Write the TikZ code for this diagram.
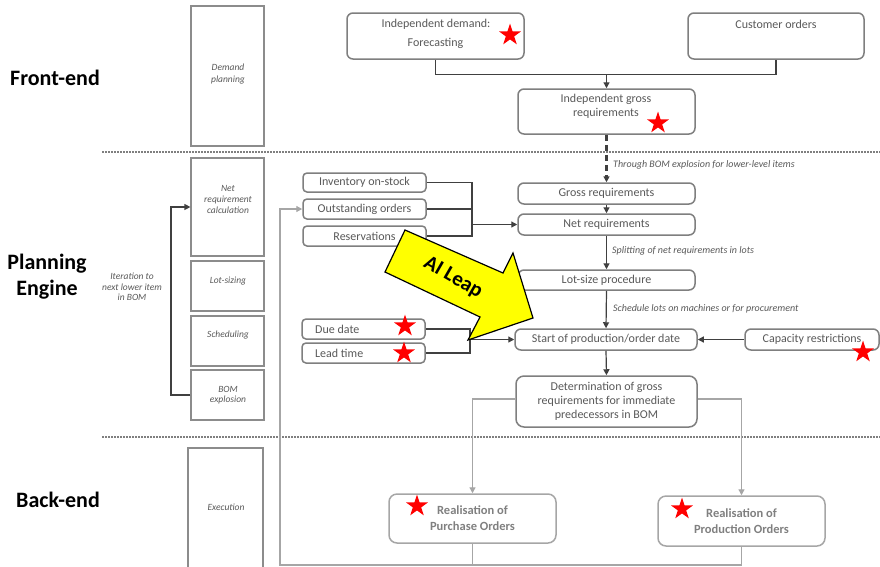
\documentclass[tikz,border=0pt]{standalone}
\usepackage{fontspec}
\setmainfont{Carlito}
\usetikzlibrary{arrows.meta,shapes.geometric}
\definecolor{bord}{HTML}{7F7F7F}
\definecolor{txtc}{HTML}{595959}
\definecolor{lanec}{HTML}{8C8C8C}
\definecolor{conncol}{HTML}{404040}
\definecolor{lgray}{HTML}{A6A6A6}
\definecolor{rtxt}{HTML}{808080}
\definecolor{leapy}{HTML}{FFFF00}
\begin{document}
\begin{tikzpicture}[x=1pt,y=-1pt,
 box/.style={draw=bord, line width=1.5pt, rounded corners=6pt, fill=white, inner sep=0pt, text=txtc, font=\fontsize{12}{15}\selectfont, align=center},
 sbox/.style={box, rounded corners=4pt},
 rbox/.style={draw=lgray, line width=1.5pt, rounded corners=8pt, fill=white, inner sep=0pt, text=rtxt, font=\bfseries\fontsize{12.5}{16}\selectfont, align=center},
 lanebox/.style={draw=lanec, line width=1.2pt, fill=white, inner sep=0pt},
 lanetxt/.style={text=txtc, font=\itshape\fontsize{9.5}{11}\selectfont, align=center, inner sep=0pt},
 btxt/.style={text=txtc, font=\fontsize{12}{15}\selectfont, inner sep=0pt},
 note/.style={text=txtc, font=\itshape\fontsize{10}{12}\selectfont, anchor=west, inner sep=0pt},
 conn/.style={draw=conncol, line width=1.2pt},
 arr/.style={conn, -{Triangle[length=6pt,width=6pt]}},
 garr/.style={draw=lgray, line width=1.2pt, -{Triangle[length=6pt,width=6pt]}},
 gline/.style={draw=lgray, line width=1.2pt},
 rstar/.style={star, star points=5, star point ratio=2.6, fill=red, draw=none, minimum size=23pt, inner sep=0pt},
 sec/.style={font=\bfseries\fontsize{22}{26}\selectfont, align=center, text=black, inner sep=0pt},
 sepline/.style={draw=bord, line width=1.5pt, dash pattern=on 1.5pt off 1.5pt}
]
\fill[white] (0,0) rectangle (880,566);
\useasboundingbox (0,0) rectangle (880,566);

% separators
\draw[sepline] (102,152) -- (880,152);
\draw[sepline] (102,437) -- (880,437);

% section labels
\node[sec] (fe) at (55,78) {Front-end};
\node[sec] (pe) at (47,277) {Planning\\Engine};
\node[sec] (be) at (58,500) {Back-end};

% lanes
\node[lanebox, minimum width=73pt, minimum height=140pt] (dp) at (227.5,76) {};
\node[lanebox, minimum width=73pt, minimum height=98pt] (nrc) at (227.5,207) {};
\node[lanebox, minimum width=73pt, minimum height=50pt] (ls) at (227.5,286) {};
\node[lanebox, minimum width=73pt, minimum height=50pt] (sch) at (227.5,341) {};
\node[lanebox, minimum width=73pt, minimum height=50pt] (bom) at (227.5,395) {};
\node[lanebox, minimum width=75pt, minimum height=124pt] (exe) at (225.5,510) {};
\node[lanetxt, font=\itshape\fontsize{9.5}{12}\selectfont] (dpT) at (228,74) {Demand\\planning};
\node[lanetxt] (nrcT) at (228,199) {Net\\requirement\\calculation};
\node[lanetxt] (lsT) at (228,281) {Lot-sizing};
\node[lanetxt] (schT) at (228,335) {Scheduling};
\node[lanetxt, font=\itshape\fontsize{9.5}{10.5}\selectfont] (bomT) at (228,395) {BOM\\explosion};
\node[lanetxt] (exeT) at (226,507) {Execution};
\node[lanetxt, font=\itshape\fontsize{9.5}{10.5}\selectfont] (iterT) at (132,287) {Iteration to\\next lower item\\in BOM};

% front-end boxes
\node[box, minimum width=177pt, minimum height=46pt] (indep) at (435.5,36) {};
\node[btxt] (indepT1) at (436,24) {Independent demand:};
\node[btxt] (indepT2) at (435.5,43) {Forecasting};
\node[box, minimum width=176pt, minimum height=46pt] (cust) at (776,36) {};
\node[btxt] (custT) at (776,24) {Customer orders};
\node[box, minimum width=177pt, minimum height=45pt] (igr) at (606.5,111.5) {};
\node[btxt] (igrT1) at (606,99) {Independent gross};
\node[btxt] (igrT2) at (606,113) {requirements};

% planning boxes
\node[box, minimum width=177pt, minimum height=21pt] (gross) at (606.5,193.5) {Gross requirements};
\node[box, minimum width=177pt, minimum height=21pt] (net) at (606.5,224.5) {Net requirements};
\node[box, minimum width=177pt, minimum height=20pt] (lot) at (606.5,280) {Lot-size procedure};
\node[box, minimum width=182pt, minimum height=21pt] (start) at (606,339.5) {Start of production/order date};
\node[box, minimum width=134pt, minimum height=21pt] (cap) at (812,339.5) {Capacity restrictions};
\node[box, minimum width=181pt, minimum height=51pt, rounded corners=8pt, font=\fontsize{12}{14}\selectfont] (det) at (606.5,401.5) {Determination of gross\\requirements for immediate\\predecessors in BOM};
\node[sbox, minimum width=123pt, minimum height=19pt] (inv) at (364.5,182.5) {Inventory on-stock};
\node[sbox, minimum width=123pt, minimum height=20pt] (out) at (364.5,209) {Outstanding orders};
\node[sbox, minimum width=123pt, minimum height=20pt] (res) at (364.5,236) {Reservations};
\node[sbox, minimum width=123pt, minimum height=20pt] (due) at (363.5,329) {};
\node[btxt, anchor=west] (dueT) at (315,329) {Due date};
\node[sbox, minimum width=123pt, minimum height=20pt] (lead) at (363.5,353) {};
\node[btxt, anchor=west] (leadT) at (315,353) {Lead time};

% back-end boxes
\node[rbox, minimum width=167pt, minimum height=49pt] (pur) at (472.5,518.5) {Realisation of\\Purchase Orders};
\node[rbox, minimum width=167pt, minimum height=50pt] (prod) at (741.5,521) {Realisation of\\Production Orders};

% notes
\node[note] (n1) at (613,165) {Through BOM explosion for lower-level items};
\node[note] (n2) at (612,251) {Splitting of net requirements in lots};
\node[note] (n3) at (613,309) {Schedule lots on machines or for procurement};

% connectors
\coordinate (j1) at (606.5,74);
\draw[conn] (indep.south) -- ++(0,15) -| (cust.south);
\draw[arr] (j1) -- (igr.north);
\draw[conncol, line width=2.2pt, dash pattern=on 6pt off 4pt, -{Triangle[length=6pt,width=6pt]}] (igr.south) -- (gross.north);
\draw[arr] (gross.south) -- (net.north);
\coordinate (invj) at (472,182.5);
\coordinate (resj) at (472,236);
\coordinate (netj) at (472,224.5);
\draw[conn] (inv.east) -- (invj) -- (resj) -- (res.east);
\draw[conn] (out.east) -- (out.east -| invj);
\draw[arr] (netj) -- (net.west);
\draw[arr] (net.south) -- (lot.north);
\draw[arr] (lot.south) -- (start.north);
\coordinate (dj) at (470,329);
\coordinate (lj) at (470,353);
\coordinate (sj) at (470,339.5);
\draw[conn] (due.east) -- (dj) -- (lj) -- (lead.east);
\draw[arr] (sj) -- (start.west);
\draw[arr] (cap.west) -- (start.east);
\draw[arr] (start.south) -- (det.north);
\coordinate (dl) at (472.5,399);
\coordinate (dr) at (741.5,399);
\draw[garr] (det.west |- dl) -- (dl) -- (pur.north);
\draw[garr] (det.east |- dr) -- (dr) -- (prod.north);
\coordinate (b1) at (741.5,565);
\coordinate (b2) at (280,565);
\coordinate (b3) at (280,209);
\draw[garr] (prod.south) -- (b1) -- (b2) -- (b3) -- (out.west);
\draw[gline] (pur.south) -- (pur.south |- b1);
\coordinate (it1) at (171,395);
\coordinate (it2) at (171,207);
\draw[arr] (bom.west) -- (it1) -- (it2) -- (nrc.west);

% stars
\node[rstar] (s1) at (510,35) {};
\node[rstar] (s2) at (658,123) {};
\node[rstar] (s3) at (405,326) {};
\node[rstar] (s4) at (404,353) {};
\node[rstar] (s5) at (863,352) {};
\node[rstar] (s6) at (417,506) {};
\node[rstar] (s7) at (682,509) {};

% AI Leap arrow
\draw[fill=leapy, draw=black, line width=1.2pt, line join=miter] (405,230) -- (503,273) -- (513,253) -- (533,318) -- (468,340) -- (480,317) -- (385,272) -- cycle;
\node[font=\bfseries\fontsize{21}{24}\selectfont, rotate=-30, inner sep=0pt] (ai) at (453,278) {AI Leap};
\end{tikzpicture}
\end{document}
